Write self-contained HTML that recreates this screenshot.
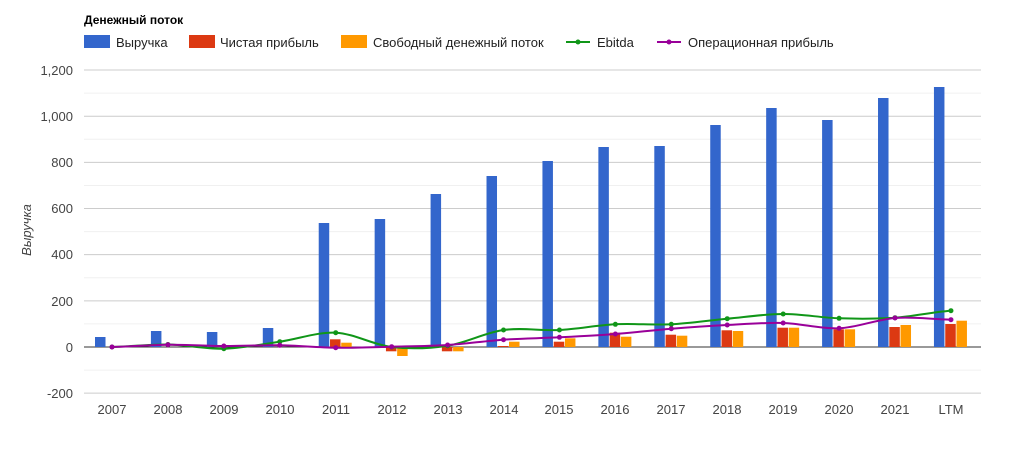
<!DOCTYPE html>
<html><head><meta charset="utf-8"><style>
body{margin:0;background:#fff;width:1024px;height:446px;overflow:hidden}
svg{font-family:"Liberation Sans",Arial,sans-serif;font-size:13px;fill:#444}
</style></head><body>
<svg id="s" width="1024" height="446" xmlns="http://www.w3.org/2000/svg">
<text x="84" y="24" style="font-weight:bold;font-size:12px;fill:#000">Денежный поток</text>
<rect x="84" y="35" width="26" height="13" fill="#3366cc"/><text x="116" y="47" fill="#222">Выручка</text>
<rect x="189" y="35" width="26" height="13" fill="#dc3912"/><text x="220" y="47" fill="#222">Чистая прибыль</text>
<rect x="341" y="35" width="26" height="13" fill="#ff9900"/><text x="373" y="47" fill="#222">Свободный денежный поток</text>
<line x1="566" y1="42" x2="590" y2="42" stroke="#109618" stroke-width="2"/><circle cx="578" cy="42" r="2.5" fill="#109618"/><text x="597" y="47" fill="#222">Ebitda</text>
<line x1="657" y1="42" x2="681" y2="42" stroke="#990099" stroke-width="2"/><circle cx="669" cy="42" r="2.5" fill="#990099"/><text x="688" y="47" fill="#222">Операционная прибыль</text>
<g id="grid"></g>
<g text-anchor="end">
<text x="73" y="75">1,200</text><text x="73" y="121">1,000</text><text x="73" y="167">800</text><text x="73" y="213">600</text><text x="73" y="259">400</text><text x="73" y="306">200</text><text x="73" y="352">0</text><text x="73" y="398">-200</text>
</g>
<text transform="translate(31,230) rotate(-90)" text-anchor="middle" style="font-style:italic">Выручка</text>
<g text-anchor="middle">
<text x="112" y="414">2007</text><text x="168" y="414">2008</text><text x="224" y="414">2009</text><text x="280" y="414">2010</text><text x="336" y="414">2011</text><text x="392" y="414">2012</text><text x="448" y="414">2013</text><text x="504" y="414">2014</text><text x="559" y="414">2015</text><text x="615" y="414">2016</text><text x="671" y="414">2017</text><text x="727" y="414">2018</text><text x="783" y="414">2019</text><text x="839" y="414">2020</text><text x="895" y="414">2021</text><text x="951" y="414">LTM</text>
</g>
<g id="bars"></g><g id="lines"></g>
</svg>
<script>
var NS="http://www.w3.org/2000/svg",Z=347;
function el(p,t,a){var e=document.createElementNS(NS,t);for(var k in a)e.setAttribute(k,a[k]);document.getElementById(p).appendChild(e);}
for(var v=-200;v<=1200;v+=100){var y=Z-v*0.2308;el('grid','line',{x1:84,x2:981,y1:y,y2:y,stroke:v==0?'#333':(v%200==0?'#ccc':'#f0f0f0'),'stroke-width':1});}
var blue=[337,331,332,328,223,219,194,176,161,147,146,125,108,120,98,87];
var red=[347,347,347,347,339.3,351.3,351.3,346,341.7,332.7,334.7,330.3,327.7,329.3,327,324];
var ora=[347,347,347,347,342.7,356,351.3,341.7,338.3,336.7,335.7,331,327.7,329.3,325,320.7];
var gr=[347,344.5,348.7,341.7,332.7,347,345.7,330,330,324.3,324.3,318.7,314,318.3,317.7,310.7];
var pu=[347,344.7,346,345.3,347.7,346.7,345,339.7,337.3,334,328.7,325,323,328.3,318,319.7];
function cx(i){return 112+55.93*i;}
function bar(x,t,c){var y=Math.min(t,Z),h=Math.abs(t-Z);if(h>0)el('bars','rect',{x:x,y:y,width:10.5,height:h,fill:c});}
for(var i=0;i<16;i++){var c=cx(i);bar(c-17,blue[i],'#3366cc');bar(c-5.7,red[i],'#dc3912');bar(c+5.5,ora[i],'#ff9900');}
function line(a,col){var d='M'+cx(0)+','+a[0];for(var i=0;i<a.length-1;i++){var p0=a[Math.max(i-1,0)],p1=a[i],p2=a[i+1],p3=a[Math.min(i+2,a.length-1)];var x1=cx(i),x2=cx(i+1),dx=55.93/3;d+=' C'+(x1+dx)+','+(p1+(p2-p0)/6)+' '+(x2-dx)+','+(p2-(p3-p1)/6)+' '+x2+','+p2;}
el('lines','path',{d:d,fill:'none',stroke:col,'stroke-width':2});for(var i=0;i<a.length;i++)el('lines','circle',{cx:cx(i),cy:a[i],r:2.5,fill:col});}
line(gr,'#109618');line(pu,'#990099');
</script>
</body></html>
